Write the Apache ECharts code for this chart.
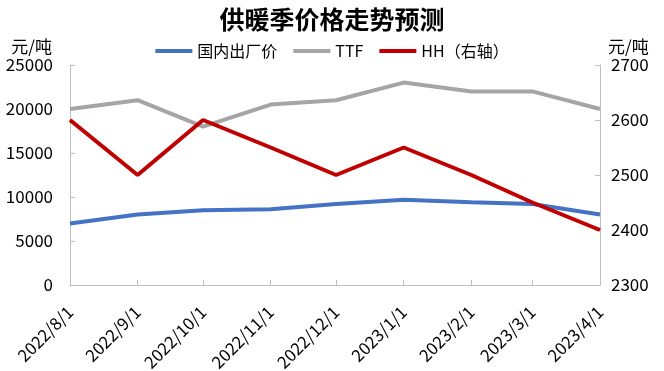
<!DOCTYPE html>
<html><head><meta charset="utf-8">
<script src="https://cdn.jsdelivr.net/npm/echarts@6/dist/echarts.min.js"></script>
<style>html,body{margin:0;padding:0;background:#fff}#c{width:664px;height:371px}</style>
</head><body><div id="c"></div>
<script>
const dates = [[2022,8,1],[2022,9,1],[2022,10,1],[2022,11,1],[2022,12,1],[2023,1,1],[2023,2,1],[2023,3,1],[2023,4,1]];
const domestic = [7000, 8000, 8500, 8600, 9200, 9700, 9400, 9200, 8000];
const ttf = [20000, 21000, 18000, 20500, 21000, 23000, 22000, 22000, 20000];
const hh = [2600, 2500, 2600, 2550, 2500, 2550, 2500, 2450, 2400];
const leftTicks = {min: 0, max: 25000, interval: 5000};
const rightTicks = {min: 2300, max: 2700, interval: 100};

const DAY = 86400000;
const ts = dates.map(d => Math.round(Date.UTC(d[0], d[1]-1, d[2]) / DAY));
const fmt = v => { const d = new Date(v * DAY); return d.getUTCFullYear() + '/' + (d.getUTCMonth()+1) + '/' + d.getUTCDate(); };
const pair = arr => arr.map((v,i) => [ts[i], v]);
const axisLineStyle = {show: true, lineStyle: {color: '#BFBFBF', width: 1}};
const font = '"Microsoft YaHei","Noto Sans CJK SC",sans-serif';
const plain = v => String(v);

const chart = echarts.init(document.getElementById('c'), null, {renderer: 'canvas'});
chart.setOption({
  animation: false,
  textStyle: {fontFamily: font},
  title: {text: '供暖季价格走势预测', left: 'center', top: 2,
    textStyle: {fontSize: 25, fontWeight: 'bold', color: '#000', fontFamily: font}},
  legend: {top: 38, left: 'center', itemWidth: 37, itemHeight: 4, itemGap: 16, icon: 'rect',
    textStyle: {fontSize: 16, color: '#000', fontFamily: font},
    data: ['国内出厂价', 'TTF', 'HH（右轴）']},
  grid: {left: 70, right: 64, top: 65, bottom: 86, containLabel: false, outerBoundsMode: 'none'},
  xAxis: {type: 'value', min: ts[0], max: ts[ts.length-1],
    axisLine: axisLineStyle,
    axisTick: {show: true, inside: true, length: 5, lineStyle: {color: '#BFBFBF'}, customValues: ts},
    axisLabel: {rotate: 45, fontSize: 17, color: '#000', customValues: ts, formatter: fmt, margin: 24, hideOverlap: false},
    splitLine: {show: false}},
  yAxis: [
    {type: 'value', min: leftTicks.min, max: leftTicks.max, interval: leftTicks.interval,
      name: '元/吨', nameLocation: 'end', nameGap: 10,
      nameTextStyle: {fontSize: 17, color: '#000', align: 'right', padding: [0, 18, 0, 0]},
      axisLine: axisLineStyle, axisTick: {show: true, inside: true, length: 5, lineStyle: {color: '#BFBFBF'}},
      axisLabel: {fontSize: 17, color: '#000', margin: 17, formatter: plain}, splitLine: {show: false}},
    {type: 'value', min: rightTicks.min, max: rightTicks.max, interval: rightTicks.interval, position: 'right',
      name: '元/吨', nameLocation: 'end', nameGap: 10,
      nameTextStyle: {fontSize: 17, color: '#000', align: 'left', padding: [0, 0, 0, 8]},
      axisLine: axisLineStyle, axisTick: {show: true, inside: true, length: 5, lineStyle: {color: '#BFBFBF'}},
      axisLabel: {fontSize: 17, color: '#000', margin: 11, formatter: plain}, splitLine: {show: false}}
  ],
  series: [
    {name: '国内出厂价', type: 'line', data: pair(domestic), symbol: 'none', lineStyle: {width: 4, color: '#4472C4'}, itemStyle: {color: '#4472C4'}},
    {name: 'TTF', type: 'line', data: pair(ttf), symbol: 'none', lineStyle: {width: 4, color: '#A5A5A5'}, itemStyle: {color: '#A5A5A5'}},
    {name: 'HH（右轴）', type: 'line', yAxisIndex: 1, data: pair(hh), symbol: 'none', lineStyle: {width: 4, color: '#C00000'}, itemStyle: {color: '#C00000'}}
  ]
});
</script></body></html>
